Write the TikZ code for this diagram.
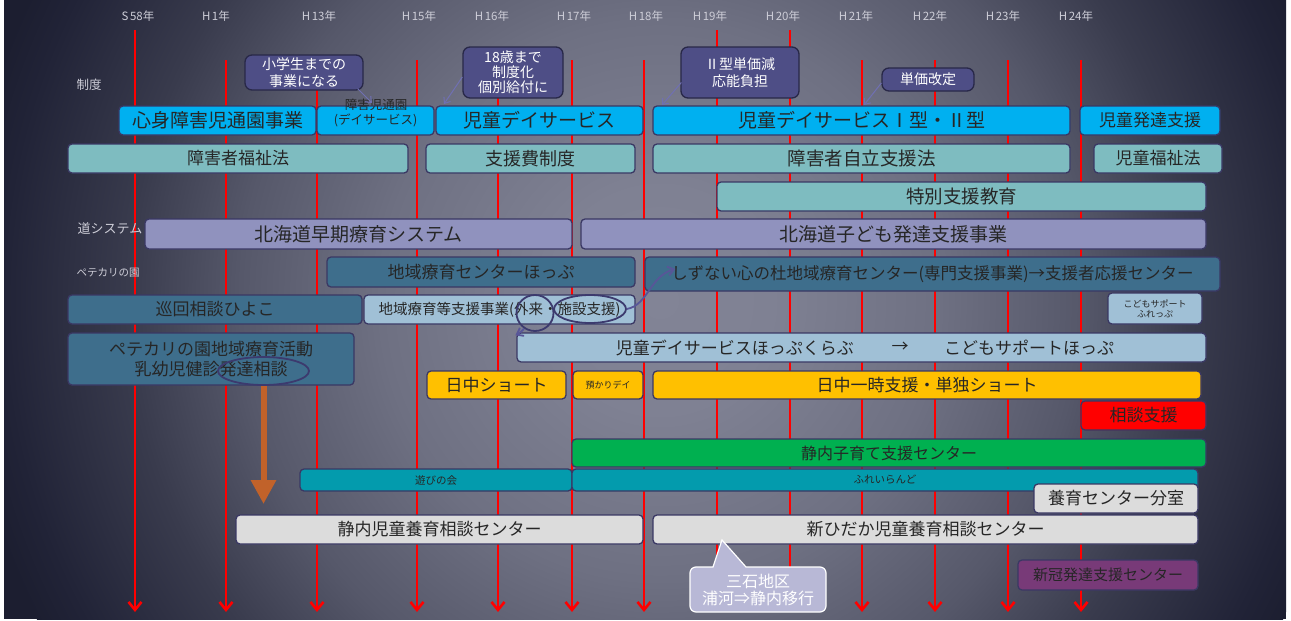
\documentclass[tikz,border=0pt]{standalone}
\usepackage{fontspec}
\setmainfont{Noto Sans CJK JP}
\usetikzlibrary{arrows.meta,shapes.geometric}
\definecolor{bgA}{RGB}{130,132,150}
\definecolor{bgA2}{RGB}{127,129,147}
\definecolor{bgB}{RGB}{110,112,130}
\definecolor{bgC}{RGB}{86,88,106}
\definecolor{bgD}{RGB}{57,59,77}
\definecolor{bgE}{RGB}{33,35,55}
\definecolor{bgF}{RGB}{28,30,48}
\definecolor{cy}{RGB}{0,176,240}
\definecolor{tg}{RGB}{126,188,192}
\definecolor{lav}{RGB}{144,146,190}
\definecolor{stl}{RGB}{62,110,140}
\definecolor{lbl}{RGB}{160,192,214}
\definecolor{yel}{RGB}{255,192,0}
\definecolor{rd}{RGB}{255,0,0}
\definecolor{grn}{RGB}{0,176,80}
\definecolor{tl}{RGB}{3,155,173}
\definecolor{lgr}{RGB}{220,220,220}
\definecolor{prp}{RGB}{120,58,120}
\definecolor{bord}{RGB}{58,56,100}
\definecolor{txt}{RGB}{38,38,38}
\definecolor{cal}{RGB}{78,78,134}
\definecolor{calb}{RGB}{40,40,72}
\definecolor{calarr}{RGB}{112,112,178}
\definecolor{mits}{RGB}{184,184,214}
\definecolor{ellc}{RGB}{60,58,110}
\definecolor{curc}{RGB}{88,86,152}
\definecolor{orng}{RGB}{193,98,42}
\definecolor{yr}{RGB}{205,205,215}
\pgfdeclareradialshading{bgrad}{\pgfpoint{0bp}{0bp}}{color(0bp)=(bgA);color(4bp)=(bgA2);color(10bp)=(bgB);color(15bp)=(bgC);color(19bp)=(bgD);color(23.5bp)=(bgE);color(25bp)=(bgF);color(50bp)=(bgF)}
\newcommand\fsz[2]{\fontsize{#1}{#2}\selectfont}
\newcommand\bx[8]{\node[bxs,fill=#2,minimum width={(#5-#3)*1pt},minimum height={(#6-#4)*1pt},font=#7] (#1) at ({(#3+#5)/2},{(#4+#6)/2}) {#8};}
\begin{document}
\begin{tikzpicture}[x=1pt,y=-1pt,
  bxs/.style={draw=bord,line width=1.3pt,rounded corners=4pt,inner sep=0pt,text=txt,align=center},
  callbox/.style={fill=cal,draw=calb,line width=1.3pt,rounded corners=7pt,text=white,align=center,inner sep=0pt},
  callarrow/.style={draw=calarr,line width=1pt,-{Straight Barb[length=5pt,width=8pt]}},
  redline/.style={draw=red,line width=2.6pt,-{Straight Barb[length=8pt,width=13pt]}},
  yearlbl/.style={text=yr,font=\fsz{11.5}{13},inner sep=0pt},
  sidelbl/.style={text=yr,inner sep=0pt},
  ellmark/.style={ellipse,draw=ellc,line width=1.8pt,inner sep=0pt},
  curarrow/.style={draw=curc,line width=1.8pt,-{Straight Barb[length=6pt,width=9pt]}},
  plain/.style={inner sep=0pt,text=txt}]
\useasboundingbox (0,0) rectangle (1291,621);
\fill[white] (0,0) rectangle (1291,621);
\begin{scope}
\clip (4,0) rectangle (1286,619);
\fill[bgF] (4,0) rectangle (1286,619);
\shade[shading=bgrad] (660,300) circle (700);
\end{scope}
% timeline
\foreach \n/\x/\lx/\tp/\lab in {a/135/138/30/S\hspace{1.5pt}58年,b/226/216/60/H\hspace{1.5pt}1年,c/317/319/60/H\hspace{1.5pt}13年,d/417/419/60/H\hspace{1.5pt}15年,e/498/492/60/H\hspace{1.5pt}16年,f/572/574/60/H\hspace{1.5pt}17年,g/644/646/60/H\hspace{1.5pt}18年,h/717/710/30/H\hspace{1.5pt}19年,i/790/783/30/H\hspace{1.5pt}20年,j/862/856/60/H\hspace{1.5pt}21年,k/935/930/60/H\hspace{1.5pt}22年,l/1008/1003/60/H\hspace{1.5pt}23年,m/1081/1076/60/H\hspace{1.5pt}24年}{
  \node[yearlbl] (yr\n) at (\lx,16) {\lab};
  \coordinate (lt\n) at (\x,\tp);
  \coordinate (lb\n) at (\x,612);
  \draw[redline] (lt\n) -- (lb\n);
}
% side labels
\node[sidelbl,font=\fsz{12.5}{14}] (lseido) at (89,85) {制度};
\node[sidelbl,font=\fsz{13}{15}] (ldo) at (110,229) {道システム};
\node[sidelbl,font=\fsz{10.5}{12}] (lpete) at (108,273) {ペテカリの園};
% boxes
\bx{shinshin}{cy}{119}{106}{316}{135}{\fsz{19}{23}}{心身障害児通園事業}
\bx{tsuen}{cy}{317}{106}{434}{135}{\fsz{12.5}{15}}{(デイサービス)}
\node[plain,font=\fsz{12.5}{15}] (tsuenlbl) at (376,105) {障害児通園};
\bx{jdsA}{cy}{436}{106}{643}{135}{\fsz{19}{23}}{児童デイサービス}
\bx{jdsB}{cy}{653}{106}{1070}{135}{\fsz{19}{23}}{児童デイサービスⅠ型・Ⅱ型}
\bx{hattatsu}{cy}{1080}{106}{1220}{135}{\fsz{17}{20}}{児童発達支援}
\bx{fukushi}{tg}{68}{144}{408}{173}{\fsz{17}{20}}{障害者福祉法}
\bx{shienhi}{tg}{426}{144}{635}{173}{\fsz{18}{21}}{支援費制度}
\bx{jiritsu}{tg}{653}{144}{1070}{173}{\fsz{18.5}{22}}{障害者自立支援法}
\bx{jidofuku}{tg}{1094}{144}{1222}{173}{\fsz{17}{20}}{児童福祉法}
\bx{tokubetsu}{tg}{717}{182}{1206}{211}{\fsz{18.5}{22}}{特別支援教育}
\bx{soki}{lav}{145}{219}{572}{249}{\fsz{19}{23}}{北海道早期療育システム}
\bx{kodomo}{lav}{581}{219}{1206}{249}{\fsz{19}{23}}{北海道子ども発達支援事業}
\bx{hop}{stl}{327}{257}{635}{287}{\fsz{17}{20}}{地域療育センターほっぷ}
\bx{shizunai}{stl}{645}{257}{1220}{291}{\fsz{16.5}{20}}{しずない心の杜地域療育センター(専門支援事業)→支援者応援センター}
\bx{hiyoko}{stl}{68}{295}{362}{324}{\fsz{17}{20}}{巡回相談ひよこ}
\bx{toshien}{lbl}{364}{295}{635}{324}{\fsz{14.5}{17}}{地域療育等支援事業(外来・施設支援)}
\bx{fureppu}{lbl}{1108}{293}{1202}{324}{\fsz{9}{10}}{こどもサポート\\ふれっぷ}
\bx{petekari}{stl}{68}{333}{354}{385}{\fsz{17}{20}}{ペテカリの園地域療育活動\\乳幼児健診発達相談}
\bx{hopclub}{lbl}{517}{333}{1206}{362}{\fsz{17}{20}}{}
\node[plain,font=\fsz{17}{20},anchor=east] (hcA) at (854,347.5) {児童デイサービスほっぷくらぶ};
\node[plain,font=\fsz{17}{20}] (hcArr) at (900,347.5) {→};
\node[plain,font=\fsz{17}{20},anchor=west] (hcB) at (944,347.5) {こどもサポートほっぷ};
\bx{nicchu}{yel}{427}{371}{566}{399}{\fsz{17}{20}}{日中ショート}
\bx{azukari}{yel}{573}{371}{643}{399}{\fsz{9}{10}}{預かりデイ}
\bx{ichiji}{yel}{653}{371}{1201}{399}{\fsz{17}{20}}{日中一時支援・単独ショート}
\bx{sodan}{rd}{1081}{401}{1206}{430}{\fsz{17}{20}}{相談支援}
\bx{kosodate}{grn}{572}{439}{1206}{467}{\fsz{16}{19}}{静内子育て支援センター}
\bx{asobi}{tl}{300}{469}{572}{491}{\fsz{10.5}{12}}{遊びの会}
\bx{fureiland}{tl}{572}{469}{1198}{491}{\fsz{10.5}{12}}{ふれいらんど}
\bx{bunshitsu}{lgr}{1034}{484}{1198}{513}{\fsz{17}{20}}{養育センター分室}
\bx{shizunaijido}{lgr}{236}{515}{643}{544}{\fsz{17}{20}}{静内児童養育相談センター}
\bx{shinhidaka}{lgr}{653}{515}{1198}{544}{\fsz{17}{20}}{新ひだか児童養育相談センター}
\bx{niikappu}{prp}{1018}{560}{1198}{590}{\fsz{15}{18}}{新冠発達支援センター}
% mitsuishi callout
\draw[fill=mits,draw=white,line width=1.2pt] (713,567) -- (722,540) -- (746,567) [rounded corners=6pt] -- (826,567) -- (826,612) -- (690,612) -- (690,567) [sharp corners] -- cycle;
\node[inner sep=0pt,text=white,align=center,font=\fsz{16}{17}] (mitsu) at (758,590) {三石地区\\浦河⇒静内移行};
% top callouts
\node[callbox,minimum width=118pt,minimum height=35pt,font=\fsz{14}{17}] (c1) at (304,72.5) {小学生までの\\事業になる};
\node[callbox,minimum width=100pt,minimum height=51pt,font=\fsz{14}{15}] (c2) at (513,72.5) {18歳まで\\制度化\\個別給付に};
\node[callbox,minimum width=118pt,minimum height=51pt,font=\fsz{14}{17}] (c3) at (740,72.5) {Ⅱ型単価減\\応能負担};
\node[callbox,minimum width=92pt,minimum height=23pt,font=\fsz{14}{16}] (c4) at (928,79.5) {単価改定};
\coordinate (t1) at (372,103);
\coordinate (t2) at (444,104);
\coordinate (t3) at (662,105);
\coordinate (t4) at (864,105);
\draw[callarrow] ([xshift=-6pt,yshift=2pt]c1.south east) -- (t1);
\draw[callarrow] ([yshift=-4.5pt]c2.west) -- (t2);
\draw[callarrow] ([xshift=1pt,yshift=-10pt]c3.west) -- (t3);
\draw[callarrow] ([yshift=-3.5pt]c4.west) -- (t4);
% ellipse marks and arrows
\node[ellmark,minimum width=37pt,minimum height=36pt] (e1) at (535,313) {};
\node[ellmark,minimum width=72pt,minimum height=28pt] (e2) at (590,309) {};
\node[ellmark,minimum width=91pt,minimum height=28pt] (e3) at (263.5,371) {};
\draw[curarrow] (e1.235) to[bend left=10] ([xshift=-1pt,yshift=-3pt]hopclub.north west);
\draw[curarrow] (e2.east) .. controls (648,305) and (650,276) .. ([xshift=31pt,yshift=5pt]shizunai.west);
\coordinate (otip) at (263.5,504);
\draw[draw=orng,line width=6pt,-{Triangle[length=24pt,width=24pt]}] (e3.south) -- (otip);
\end{tikzpicture}
\end{document}
